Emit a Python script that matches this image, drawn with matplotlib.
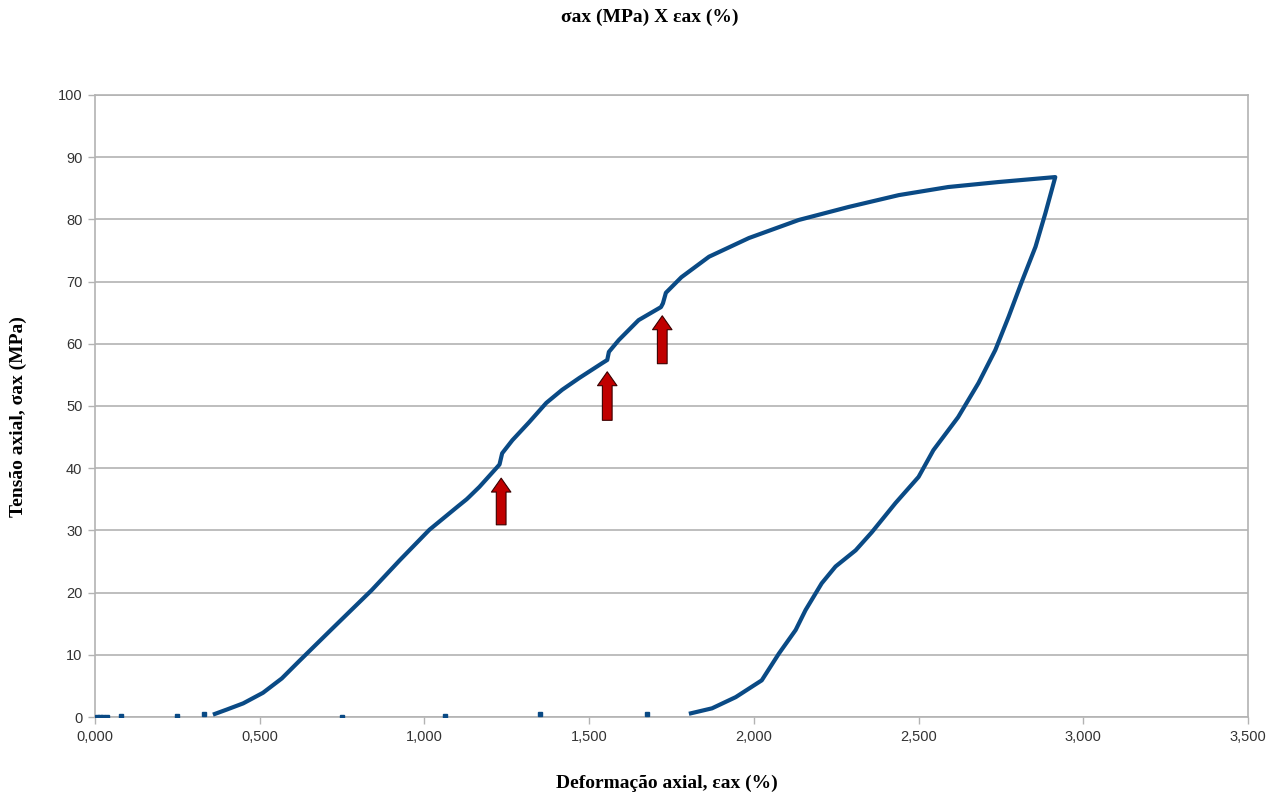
import matplotlib
matplotlib.use("Agg")
import matplotlib.pyplot as plt
from matplotlib.ticker import FuncFormatter, MultipleLocator

# loading branch (strain %, stress MPa)
load_x = [0.364, 0.40, 0.45, 0.51, 0.567, 0.62, 0.72, 0.84, 0.925, 1.015, 1.10, 1.128, 1.136,
          1.167, 1.218, 1.228, 1.236, 1.267, 1.318, 1.37, 1.418, 1.47, 1.54, 1.555, 1.56,
          1.59, 1.65, 1.718, 1.724, 1.733, 1.78, 1.864, 1.985, 2.136, 2.288, 2.44, 2.59,
          2.742, 2.915]
load_y = [0.5, 1.2, 2.2, 3.9, 6.2, 9.0, 14.2, 20.4, 25.2, 30.1, 33.8, 35.0, 35.4,
          37.0, 40.0, 40.6, 42.4, 44.5, 47.4, 50.5, 52.6, 54.5, 56.9, 57.4, 58.7,
          60.6, 63.8, 65.9, 66.5, 68.2, 70.7, 74.0, 77.0, 79.9, 82.0, 83.9, 85.2,
          86.0, 86.8]

# unloading branch
unload_x = [2.915, 2.885, 2.855, 2.812, 2.773, 2.733, 2.682, 2.62, 2.545, 2.5, 2.43, 2.358,
            2.309, 2.248, 2.206, 2.157, 2.127, 2.076, 2.024, 1.945, 1.873, 1.809]
unload_y = [86.8, 81.0, 75.6, 69.8, 64.3, 59.0, 53.7, 48.2, 42.9, 38.6, 34.4, 29.7,
            26.8, 24.2, 21.5, 17.2, 14.0, 10.2, 5.9, 3.2, 1.4, 0.6]

# loose points lying on the axis
dot_x = [0.005, 0.015, 0.025, 0.035, 0.08, 0.25, 0.33, 0.75, 1.064, 1.35, 1.675]
dot_y = [0.0, 0.0, 0.0, 0.0, 0.2, 0.2, 0.5, 0.0, 0.2, 0.5, 0.5]

# red arrows marking the steps
arrow_x = [1.233, 1.555, 1.722]
arrow_tail = [30.9, 47.7, 56.8]
arrow_tip = [38.4, 55.5, 64.5]

blue = "#0a4a85"
grid = "#b3b3b3"

fig = plt.figure(figsize=(12.8, 7.96), dpi=100)
ax = fig.add_axes([0.0742, 0.0992, 0.9008, 0.7815])

ax.plot(load_x + unload_x[1:], load_y + unload_y[1:], color=blue, lw=3.0,
        solid_joinstyle="round", zorder=3)
ax.plot(dot_x, dot_y, ls="none", marker="s", ms=2.8, color=blue, zorder=3)

for x, y0, y1 in zip(arrow_x, arrow_tail, arrow_tip):
    ax.annotate("", xy=(x, y1), xytext=(x, y0),
                arrowprops=dict(width=7, headwidth=14, headlength=10,
                                facecolor="#c00000", edgecolor="#3a0000", lw=0.8),
                zorder=4)

ax.set_xlim(0, 3.5)
ax.set_ylim(0, 100)
ax.xaxis.set_major_locator(MultipleLocator(0.5))
ax.yaxis.set_major_locator(MultipleLocator(10))
ax.xaxis.set_major_formatter(FuncFormatter(lambda v, p: f"{v:.3f}".replace(".", ",")))
ax.yaxis.set_major_formatter(FuncFormatter(lambda v, p: f"{v:.0f}"))

ax.yaxis.grid(True, color=grid, lw=1.2)
ax.set_axisbelow(True)
for s in ax.spines.values():
    s.set_color(grid)
    s.set_linewidth(1.2)
ax.tick_params(colors=grid, length=5, width=1, labelcolor="#333333",
               labelsize=10.5, pad=4)
for lab in ax.get_xticklabels() + ax.get_yticklabels():
    lab.set_family("Liberation Sans")

serif = dict(family="Liberation Serif", weight="bold", size=14)
fig.text(0.508, 0.978, "σax (MPa) X εax (%)", ha="center", va="center", **serif)
fig.text(0.521, 0.016, "Deformação axial, εax (%)", ha="center", va="center", **serif)
fig.text(0.014, 0.477, "Tensão axial, σax (MPa)", ha="center", va="center",
         rotation=90, **serif)

fig.savefig("out.png", dpi=100)
